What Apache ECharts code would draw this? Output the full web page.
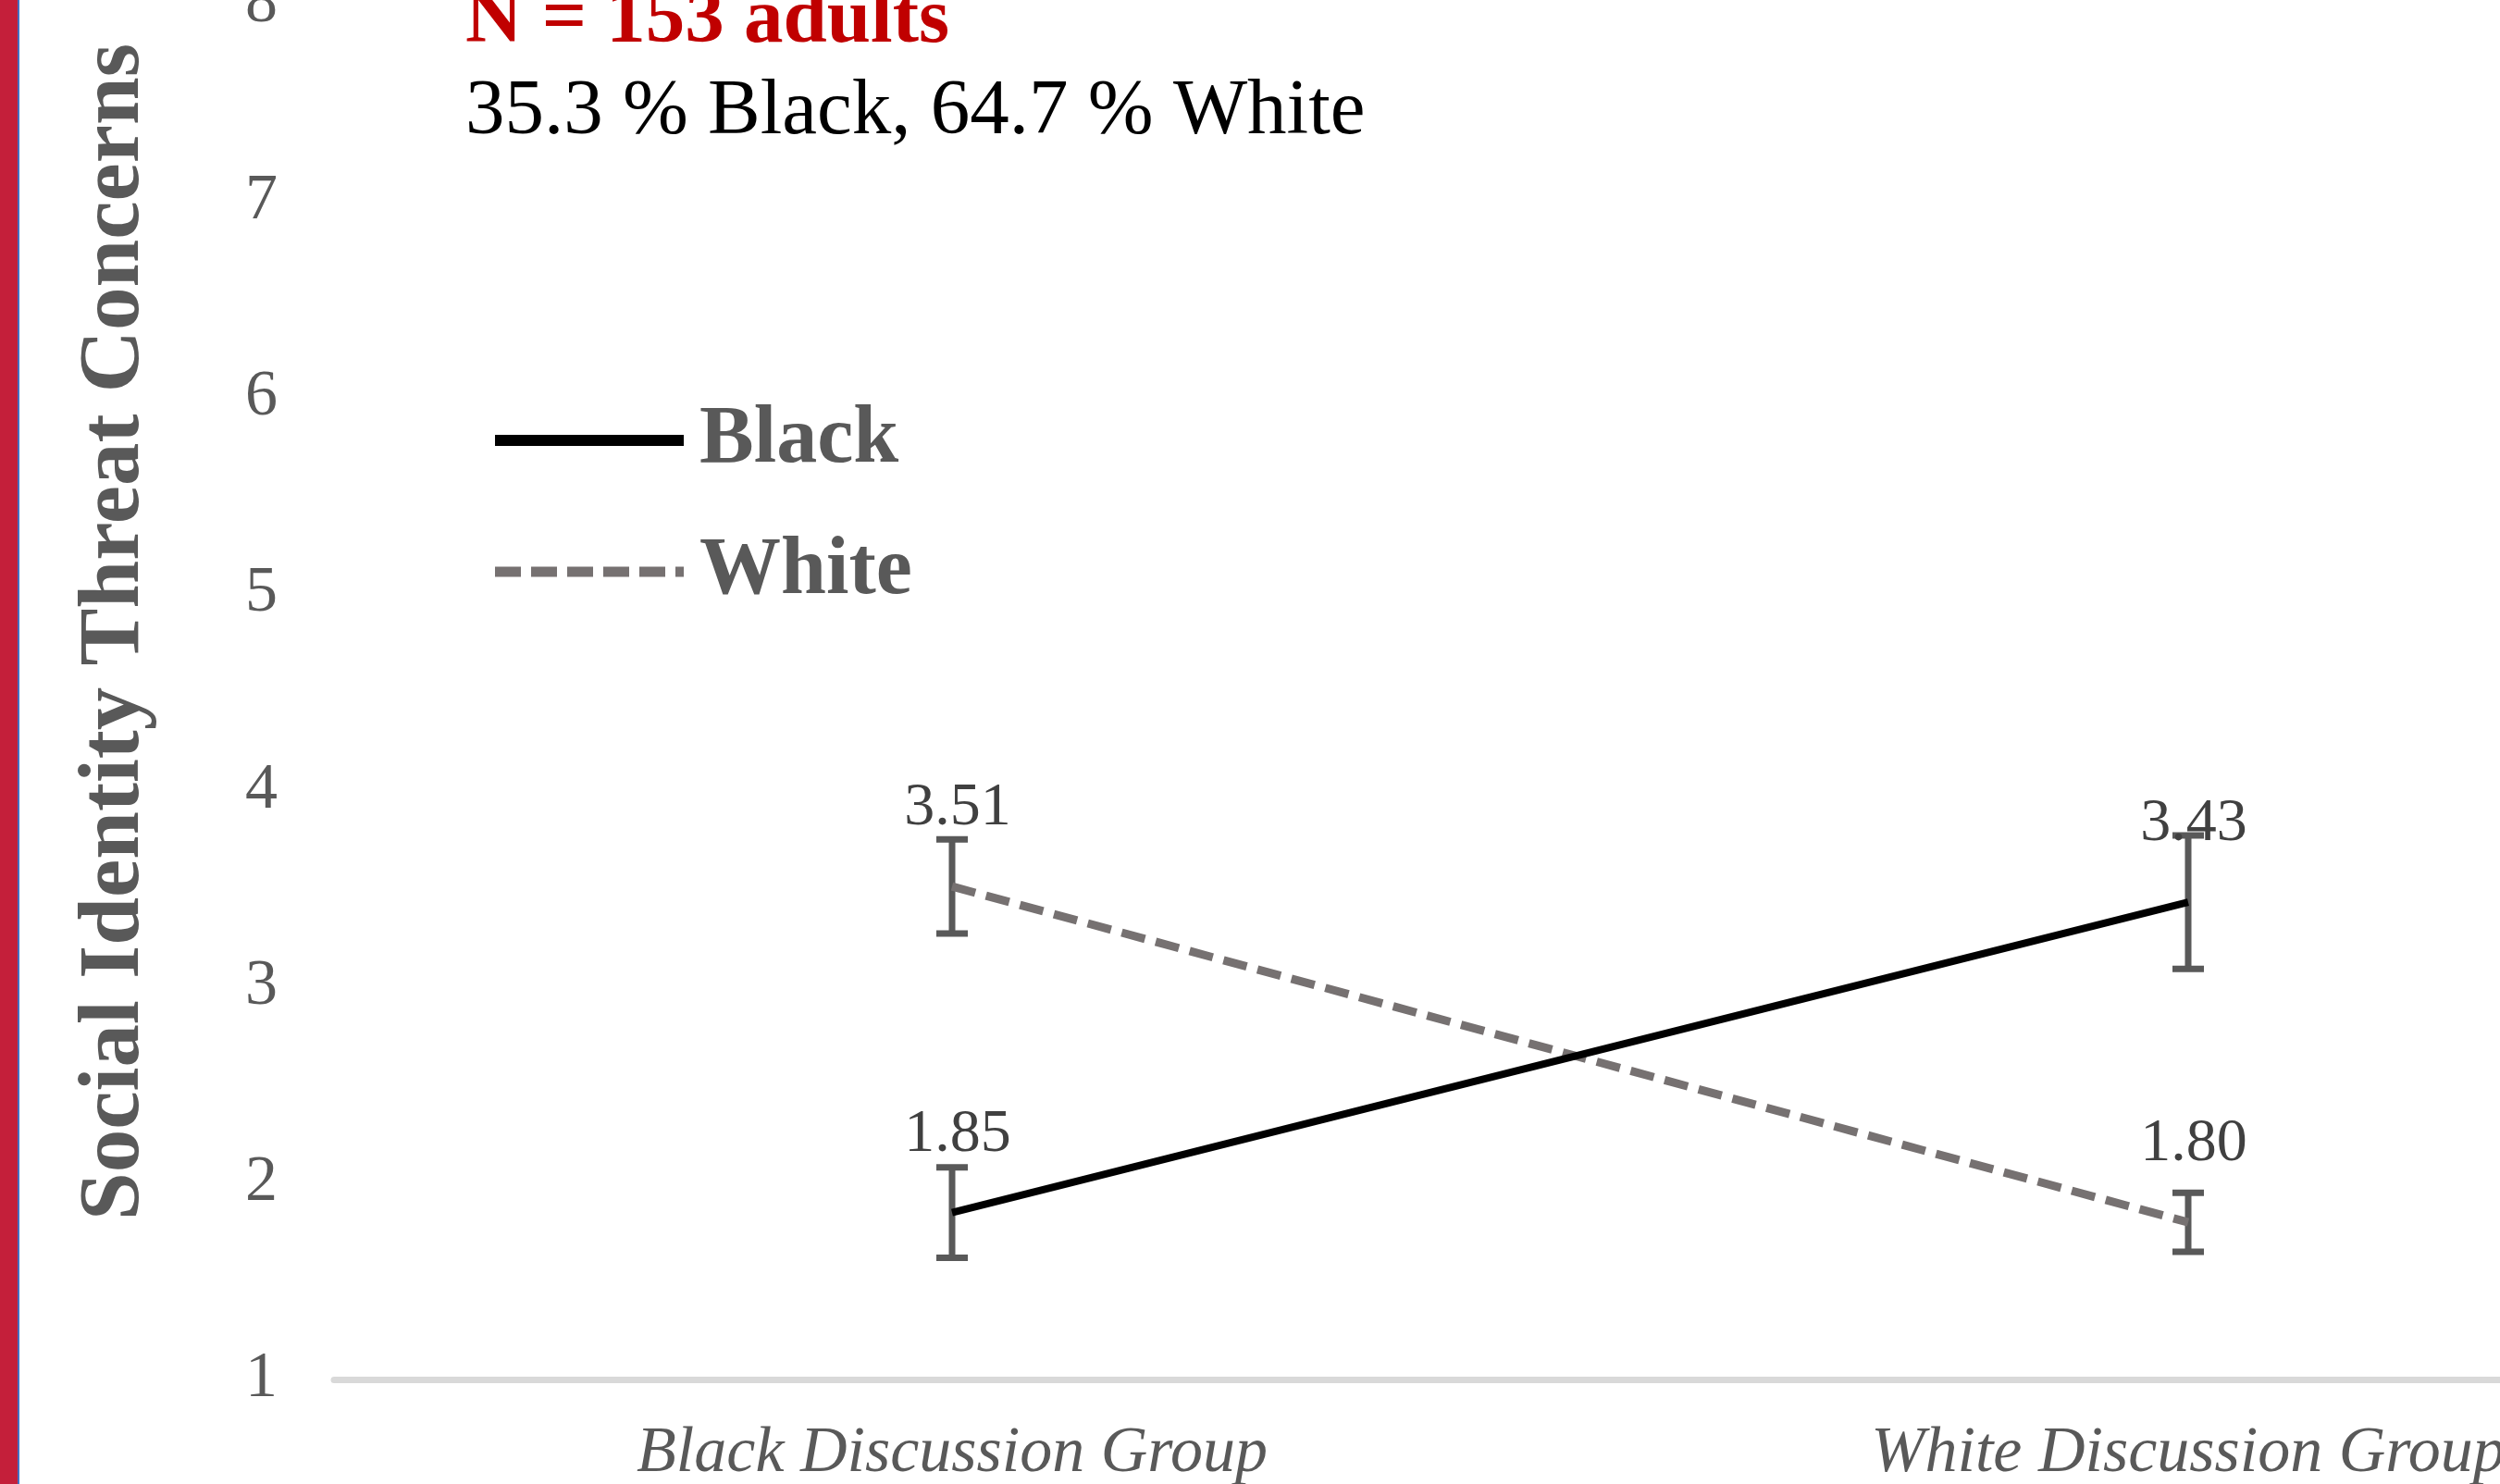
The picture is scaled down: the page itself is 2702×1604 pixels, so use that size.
<!DOCTYPE html>
<html>
<head>
<meta charset="utf-8">
<script src="https://cdn.jsdelivr.net/npm/echarts@6/dist/echarts.min.js"></script>
<style>
  html, body { margin: 0; padding: 0; background: #fff; }
  #chart { width: 2702px; height: 1604px; }
</style>
</head>
<body>
<div id="chart"></div>
<script>
// data
const groups = ["Black Discussion Group", "White Discussion Group"];
const blackMeans = [1.85, 3.43];
const blackErrors = [0.23, 0.34];
const whiteMeans = [3.51, 1.80];
const whiteErrors = [0.24, 0.15];
const yMin = 1;
const yMax = 8;
const yStep = 1;

const serif = '"Liberation Serif", "Times New Roman", serif';
const gray = "#595959";

function errorData(means, errors) {
  return means.map((m, i) => [i, m, errors[i]]);
}

// error bar + value label, placed through the axes
function renderErrorBar(params, api) {
  const x = api.value(0);
  const mean = api.value(1);
  const err = api.value(2);
  const top = api.coord([x, mean + err]);
  const bottom = api.coord([x, mean - err]);
  const mid = api.coord([x, mean]);
  const cap = 17;
  const style = { stroke: gray, lineWidth: 7 };
  return {
    type: "group",
    children: [
      { type: "line", shape: { x1: top[0], y1: top[1], x2: bottom[0], y2: bottom[1] }, style: style },
      { type: "line", shape: { x1: top[0] - cap, y1: top[1], x2: top[0] + cap, y2: top[1] }, style: style },
      { type: "line", shape: { x1: bottom[0] - cap, y1: bottom[1], x2: bottom[0] + cap, y2: bottom[1] }, style: style },
      {
        type: "text",
        x: mid[0] + 6,
        y: mid[1] - 51,
        style: {
          text: mean.toFixed(2),
          fontFamily: serif,
          fontSize: 66,
          fill: "#404040",
          align: "center",
          verticalAlign: "bottom"
        }
      }
    ]
  };
}

const chart = echarts.init(document.getElementById("chart"));
chart.setOption({
  backgroundColor: "#ffffff",
  animation: false,
  grid: { left: 361, right: -331, top: 5, bottom: 113, outerBoundsMode: "none", containLabel: false },
  xAxis: {
    type: "category",
    data: groups,
    boundaryGap: true,
    axisLine: { lineStyle: { color: "#d9d9d9", width: 7 } },
    axisTick: { show: false },
    axisLabel: {
      interval: 0,
      margin: 46,
      fontFamily: serif,
      fontStyle: "italic",
      fontSize: 70,
      color: gray
    }
  },
  yAxis: {
    type: "value",
    min: yMin,
    max: yMax,
    interval: yStep,
    axisLine: { show: false },
    axisTick: { show: false },
    splitLine: { show: false },
    axisLabel: {
      margin: 61,
      padding: [6, 0, 0, 0],
      fontFamily: serif,
      fontSize: 70,
      color: gray
    }
  },
  legend: {
    orient: "vertical",
    left: 529,
    top: 432,
    padding: 0,
    itemWidth: 204,
    itemHeight: 20,
    itemGap: 54,
    itemStyle: { opacity: 0 },
    textStyle: {
      fontFamily: serif,
      fontSize: 88,
      fontWeight: "bold",
      color: gray,
      lineHeight: 88,
      padding: [0, 0, 0, 12]
    },
    data: [
      { name: "Black", lineStyle: { color: "#000000", width: 12, type: "solid" } },
      { name: "White", lineStyle: { color: "#767171", width: 11, type: [28, 11] } }
    ]
  },
  graphic: [
    { type: "rect", x: 0, y: 0, shape: { width: 19, height: 1604 }, style: { fill: "#c41f3a" } },
    { type: "rect", x: 19, y: 0, shape: { width: 2, height: 1604 }, style: { fill: "#4472c4" } },
    {
      type: "text", x: 503, y: 23,
      style: { text: "N = 153 adults", fontFamily: serif, fontSize: 85, fontWeight: "bold", fill: "#c00000", verticalAlign: "middle" }
    },
    {
      type: "text", x: 503, y: 122,
      style: { text: "35.3 % Black, 64.7 % White", fontFamily: serif, fontSize: 85, fill: "#000000", verticalAlign: "middle" }
    },
    {
      type: "text", x: 125, y: 683, rotation: Math.PI / 2,
      style: { text: "Social Identity Threat Concerns", fontFamily: serif, fontSize: 93, fontWeight: "bold", fill: gray, align: "center", verticalAlign: "middle" }
    }
  ],
  series: [
    {
      type: "custom",
      name: "Black err",
      renderItem: renderErrorBar,
      data: errorData(blackMeans, blackErrors),
      z: 1
    },
    {
      type: "custom",
      name: "White err",
      renderItem: renderErrorBar,
      data: errorData(whiteMeans, whiteErrors),
      z: 1
    },
    {
      name: "Black",
      type: "line",
      data: blackMeans,
      symbol: "none",
      lineStyle: { color: "#000000", width: 8 },
      itemStyle: { color: "#000000" },
      z: 3
    },
    {
      name: "White",
      type: "line",
      data: whiteMeans,
      symbol: "none",
      lineStyle: { color: "#767171", width: 9, type: [26, 12] },
      itemStyle: { color: "#767171" },
      z: 2
    }
  ]
});
</script>
</body>
</html>
